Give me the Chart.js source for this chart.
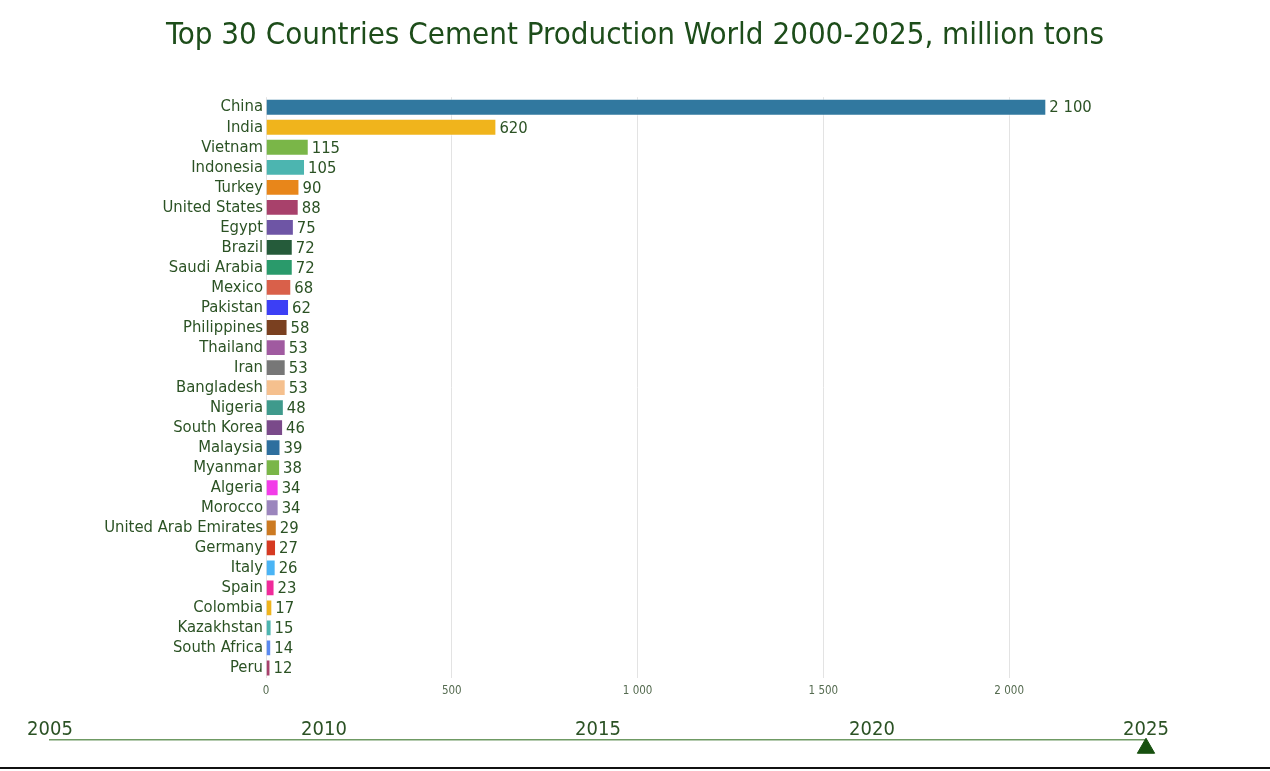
<!DOCTYPE html>
<html lang="en">
<head>
    <meta charset="UTF-8">
    <title>Top 30 Countries Cement Production</title>
    <script src="https://cdn.jsdelivr.net/npm/chart.js@4.4.1/dist/chart.umd.min.js"></script>
</head>
<style>
    body {
        margin: 0;
        background: #fff;
        width: 1270px;
        height: 771px;
        overflow: hidden;
        position: relative;
    }
    #mainWrap { position: absolute; left: 0; top: 0; width: 1270px; height: 700px; }
    #timeWrap { position: absolute; left: 0; top: 700px; width: 1270px; height: 66px; }
    #bottomLine { position: absolute; left: 0; top: 767px; width: 1270px; height: 2px; background: #111; }
</style>
<body>
    <div id="mainWrap"><canvas id="barCanvas"></canvas></div>
    <div id="timeWrap"><canvas id="timeCanvas"></canvas></div>
    <div id="bottomLine"></div>

    <script>
        const FONT = '"DejaVu Sans Condensed", "Liberation Sans Narrow", Roboto, sans-serif';
        const TEXT_GREEN = '#2b5224';

        const countries = ['China', 'India', 'Vietnam', 'Indonesia', 'Turkey', 'United States', 'Egypt', 'Brazil',
            'Saudi Arabia', 'Mexico', 'Pakistan', 'Philippines', 'Thailand', 'Iran', 'Bangladesh', 'Nigeria',
            'South Korea', 'Malaysia', 'Myanmar', 'Algeria', 'Morocco', 'United Arab Emirates', 'Germany',
            'Italy', 'Spain', 'Colombia', 'Kazakhstan', 'South Africa', 'Peru'];
        const production = [2100, 620, 115, 105, 90, 88, 75, 72, 72, 68, 62, 58, 53, 53, 53, 48, 46, 39, 38,
            34, 34, 29, 27, 26, 23, 17, 15, 14, 12];
        const barColors = ['#31789f', '#f0b41c', '#7ab648', '#4cb5b0', '#e8861a', '#a8416b', '#6e55a5', '#255b3a',
            '#2a9a6b', '#d9604a', '#3c3ff5', '#7a4020', '#a05aa0', '#777777', '#f5c08e', '#3f9a8c',
            '#7a4a8a', '#2e6f9e', '#7ab648', '#f23ce8', '#9b85bd', '#cc7a22', '#d63a22', '#4ab4f5',
            '#f02a9a', '#f0b41c', '#4cb5b0', '#5a8af0', '#a8416b'];
        const xTicks = [0, 500, 1000, 1500, 2000];
        const years = [2005, 2010, 2015, 2020, 2025];
        const currentYear = 2025;

        function fmt(v) {
            return String(v).replace(/\B(?=(\d{3})+(?!\d))/g, ' ');
        }

        // value labels at the end of each bar
        const valueLabels = {
            id: 'valueLabels',
            afterDatasetsDraw(chart) {
                const ctx = chart.ctx;
                const meta = chart.getDatasetMeta(0);
                ctx.save();
                ctx.font = '16.5px ' + FONT;
                ctx.fillStyle = TEXT_GREEN;
                ctx.textAlign = 'left';
                ctx.textBaseline = 'middle';
                meta.data.forEach((bar, i) => {
                    ctx.fillText(fmt(production[i]), bar.x + 3, bar.y + 1);
                });
                ctx.restore();
            }
        };

        new Chart(document.getElementById('barCanvas'), {
            type: 'bar',
            data: {
                labels: countries,
                datasets: [{
                    data: production,
                    backgroundColor: barColors,
                    borderColor: 'rgba(255,255,255,0.5)',
                    borderWidth: 1,
                    barPercentage: 0.84,
                    categoryPercentage: 1
                }]
            },
            options: {
                indexAxis: 'y',
                responsive: true,
                maintainAspectRatio: false,
                animation: false,
                layout: { padding: 0 },
                plugins: {
                    legend: { display: false },
                    tooltip: { enabled: false },
                    title: {
                        display: true,
                        text: 'Top 30 Countries Cement Production World 2000-2025, million tons',
                        color: '#1d4d1a',
                        font: { family: FONT, size: 31, weight: 'normal' },
                        padding: { top: 17, bottom: 43 }
                    }
                },
                scales: {
                    x: {
                        min: 0,
                        max: 2702,
                        afterBuildTicks(scale) {
                            scale.ticks = xTicks.map(v => ({ value: v }));
                        },
                        afterFit(scale) { scale.height = 22; },
                        grid: { color: '#e3e3e3', drawTicks: false },
                        border: { display: false },
                        ticks: {
                            padding: 6,
                            color: '#556b50',
                            font: { family: FONT, size: 11.5 },
                            callback: v => fmt(v)
                        }
                    },
                    y: {
                        afterFit(scale) { scale.width = 266; },
                        grid: { display: false, drawTicks: false },
                        border: { display: false },
                        ticks: {
                            padding: 3,
                            color: TEXT_GREEN,
                            font: { family: FONT, size: 16.5 },
                            autoSkip: false
                        }
                    }
                }
            },
            plugins: [valueLabels]
        });

        // timeline along the bottom
        new Chart(document.getElementById('timeCanvas'), {
            type: 'scatter',
            data: {
                datasets: [{
                    data: [{ x: currentYear, y: -0.55 }],
                    pointStyle: 'triangle',
                    pointRadius: 10,
                    backgroundColor: '#17500f',
                    borderColor: '#17500f',
                    clip: false
                }]
            },
            options: {
                responsive: true,
                maintainAspectRatio: false,
                animation: false,
                layout: { padding: { left: 50, right: 124, top: 0, bottom: 0 } },
                plugins: { legend: { display: false }, tooltip: { enabled: false } },
                scales: {
                    x: {
                        type: 'linear',
                        position: 'top',
                        min: 2005,
                        max: 2025,
                        afterBuildTicks(scale) {
                            scale.ticks = years.map(v => ({ value: v }));
                        },
                        afterFit(scale) { scale.height = 40; },
                        grid: { display: false },
                        border: { display: true, color: '#6f9a64', width: 1.5 },
                        ticks: {
                            padding: -10,
                            color: TEXT_GREEN,
                            font: { family: FONT, size: 20 },
                            callback: v => String(v)
                        }
                    },
                    y: {
                        display: false,
                        min: -1,
                        max: 0
                    }
                }
            }
        });
    </script>
</body>
</html>
